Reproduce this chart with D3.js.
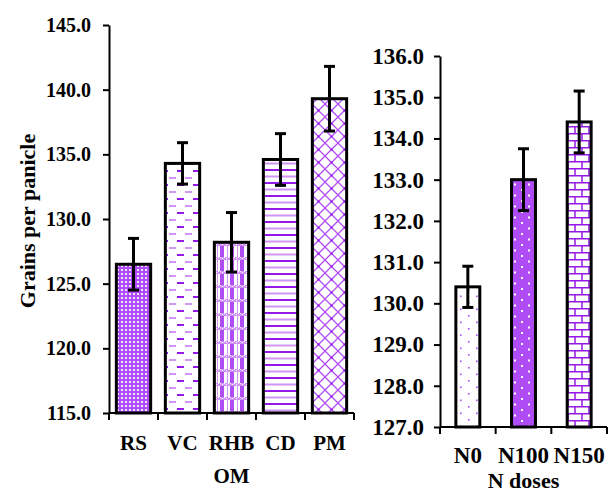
<!DOCTYPE html>
<html><head><meta charset="utf-8">
<script src="https://cdn.jsdelivr.net/npm/d3@7"></script>
<style>
html,body{margin:0;padding:0;background:#fff;}
svg{display:block;}
text{font-family:"Liberation Serif","Times New Roman",serif;font-weight:bold;fill:#000;}
</style></head>
<body>
<svg id="chart" width="610" height="493"></svg>
<script>
// ---- data ----
const omCategories = ["RS", "VC", "RHB", "CD", "PM"];
const omValues = [126.5, 134.3, 128.2, 134.6, 139.3];
const omErrors = [2.0, 1.6, 2.3, 2.0, 2.5];
const omTicks = [115, 120, 125, 130, 135, 140, 145];
const omPatterns = ["pRS", "pVC", "pRHB", "pCD", "pPM"];

const nCategories = ["N0", "N100", "N150"];
const nValues = [130.4, 133.0, 134.4];
const nErrors = [0.5, 0.75, 0.75];
const nTicks = [127, 128, 129, 130, 131, 132, 133, 134, 135, 136];
const nPatterns = ["pN0", "pN100", "pN150"];

const yLabel = "Grains per panicle";
const omTitle = "OM";
const nTitle = "N doses";

const P = "#b04cf5", PD = "#9418e8", PL = "#cf95f7";
const svg = d3.select("#chart");
const defs = svg.append("defs");

function pat(id, w, h, bg) {
  const p = defs.append("pattern").attr("id", id).attr("patternUnits", "userSpaceOnUse")
    .attr("width", w).attr("height", h);
  p.append("rect").attr("width", w).attr("height", h).attr("fill", bg);
  return p;
}
// RS: purple with small white squares
{ const p = pat("pRS", 4, 4, P);
  p.append("rect").attr("x", 1).attr("y", 1).attr("width", 2).attr("height", 2).attr("fill", "#f4e6ff"); }
// VC: dashes
{ const p = pat("pVC", 16, 14, "#fff");
  p.append("rect").attr("x", 1).attr("y", 2).attr("width", 7).attr("height", 2).attr("fill", PD);
  p.append("rect").attr("x", 9).attr("y", 9).attr("width", 7).attr("height", 2).attr("fill", PL); }
// RHB: plaid
{ const p = pat("pRHB", 10, 14, "#fff");
  p.append("rect").attr("x", 0).attr("y", 0).attr("width", 4).attr("height", 14).attr("fill", P);
  p.append("rect").attr("x", 0).attr("y", 5).attr("width", 10).attr("height", 3).attr("fill", PL);
  for (let i = 0; i < 5; i++) p.append("rect").attr("x", i * 2).attr("y", 5 + (i % 2)).attr("width", 1).attr("height", 1).attr("fill", "#fff");
  p.append("rect").attr("x", 7).attr("y", 0).attr("width", 1).attr("height", 14).attr("fill", PL); }
// CD: horizontal lines
{ const p = pat("pCD", 8, 13, "#fff");
  p.append("rect").attr("x", 0).attr("y", 0).attr("width", 8).attr("height", 2).attr("fill", PD);
  p.append("rect").attr("x", 0).attr("y", 6.5).attr("width", 8).attr("height", 2).attr("fill", PL); }
// PM: lattice
{ const p = pat("pPM", 13, 13, "#fff");
  p.append("path").attr("d", "M0,0L13,13M13,0L0,13").attr("stroke", P).attr("stroke-width", 1.3).attr("fill", "none");
  p.append("rect").attr("x", 5.5).attr("y", 5.5).attr("width", 2).attr("height", 2).attr("fill", PD); }
// N0: sparse dots
{ const p = pat("pN0", 16, 13, "#fff");
  p.append("rect").attr("x", 4).attr("y", 3).attr("width", 1.6).attr("height", 1.6).attr("fill", P);
  p.append("rect").attr("x", 12).attr("y", 9.5).attr("width", 1.6).attr("height", 1.6).attr("fill", P); }
// N100: purple with white dots
{ const p = pat("pN100", 14, 11, P);
  p.append("rect").attr("x", 3).attr("y", 2).attr("width", 2).attr("height", 2).attr("fill", "#fff");
  p.append("rect").attr("x", 10).attr("y", 7.5).attr("width", 2).attr("height", 2).attr("fill", "#fff"); }
// N150: bricks
{ const p = pat("pN150", 14, 14, "#fff");
  p.append("path").attr("d", "M0,0.75H14M0,7.75H14M1,0V7.75M8,7.75V14").attr("stroke", PD).attr("stroke-width", 1.5).attr("fill", "none"); }

function drawPanel(cfg) {
  const y = d3.scaleLinear().domain(cfg.domain).range([cfg.bottom, cfg.top]);
  const x = d3.scaleBand().domain(cfg.cats).range([cfg.left, cfg.right])
    .paddingInner(cfg.padIn).paddingOuter(cfg.padOut);
  const g = svg.append("g");
  // bars
  g.selectAll("rect.bar").data(cfg.values).join("rect").attr("class", "bar")
    .attr("x", (d, i) => x(cfg.cats[i]))
    .attr("y", d => y(d))
    .attr("width", x.bandwidth())
    .attr("height", d => y(cfg.domain[0]) - y(d))
    .attr("fill", (d, i) => `url(#${cfg.patterns[i]})`)
    .attr("stroke", "#000").attr("stroke-width", 3);
  // error bars
  const eb = g.selectAll("g.err").data(cfg.values).join("g").attr("class", "err");
  const cx = i => x(cfg.cats[i]) + x.bandwidth() / 2;
  eb.append("line").attr("x1", (d, i) => cx(i)).attr("x2", (d, i) => cx(i))
    .attr("y1", (d, i) => y(d - cfg.errors[i])).attr("y2", (d, i) => y(d + cfg.errors[i]))
    .attr("stroke", "#000").attr("stroke-width", 3);
  [-1, 1].forEach(s => {
    eb.append("line").attr("x1", (d, i) => cx(i) - 5.5).attr("x2", (d, i) => cx(i) + 5.5)
      .attr("y1", (d, i) => y(d + s * cfg.errors[i])).attr("y2", (d, i) => y(d + s * cfg.errors[i]))
      .attr("stroke", "#000").attr("stroke-width", 3);
  });
  // y axis
  const ya = g.append("g").attr("transform", `translate(${cfg.left},0)`)
    .call(d3.axisLeft(y).tickValues(cfg.ticks).tickFormat(d3.format(".1f")).tickSize(6).tickSizeOuter(0).tickPadding(cfg.tickPad));
  ya.select(".domain").attr("stroke", "#000").attr("stroke-width", 2);
  ya.selectAll(".tick line").attr("stroke", "#000").attr("stroke-width", 2);
  ya.selectAll(".tick text").attr("font-family", "Liberation Serif").attr("font-weight", "bold")
    .attr("font-size", cfg.tickFont).attr("fill", "#000");
  // x axis
  const xa = g.append("g").attr("transform", `translate(0,${cfg.bottom})`);
  xa.append("line").attr("x1", cfg.left).attr("x2", cfg.right).attr("stroke", "#000").attr("stroke-width", 2);
  const bounds = d3.range(cfg.cats.length + 1).map(i => x.range()[0] + i * x.step());
  xa.selectAll("line.tk").data(bounds).join("line").attr("class", "tk")
    .attr("x1", d => d).attr("x2", d => d).attr("y1", 0).attr("y2", 7)
    .attr("stroke", "#000").attr("stroke-width", 2);
  xa.selectAll("text.cat").data(cfg.cats).join("text").attr("class", "cat")
    .attr("x", d => x(d) + x.bandwidth() / 2).attr("y", cfg.catY)
    .attr("text-anchor", "middle").attr("font-size", cfg.catFont).text(d => d);
  xa.append("text").attr("x", (cfg.left + cfg.right) / 2).attr("y", cfg.titleY)
    .attr("text-anchor", "middle").attr("font-size", cfg.titleFont).text(cfg.title);
}

drawPanel({
  cats: omCategories, values: omValues, errors: omErrors, ticks: omTicks, patterns: omPatterns,
  domain: [115, 145], top: 25, bottom: 413, left: 109, right: 354, padIn: 0.3, padOut: 0.15,
  tickPad: 12, tickFont: 20, catFont: 21, titleFont: 21, catY: 37, titleY: 70, title: omTitle
});
drawPanel({
  cats: nCategories, values: nValues, errors: nErrors, ticks: nTicks, patterns: nPatterns,
  domain: [127, 136], top: 56, bottom: 427, left: 440, right: 607, padIn: 0.57, padOut: 0.285,
  tickPad: 10, tickFont: 23, catFont: 23, titleFont: 22, catY: 36, titleY: 61, title: nTitle
});

svg.append("text").attr("transform", "translate(35,221) rotate(-90)")
  .attr("text-anchor", "middle").attr("font-size", 22).text(yLabel);
</script>
</body></html>
